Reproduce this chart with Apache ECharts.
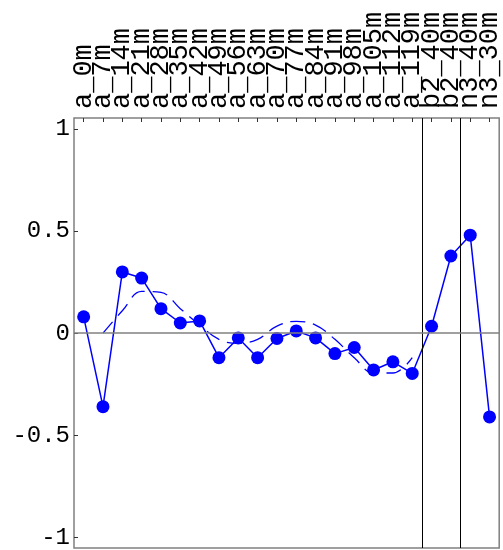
<!DOCTYPE html>
<html>
<head>
<meta charset="utf-8">
<script src="https://cdn.jsdelivr.net/npm/echarts@6/dist/echarts.min.js"></script>
<style>
html,body{margin:0;padding:0;background:#fff;}
#chart{width:503px;height:550px;}
</style>
</head>
<body>
<div id="chart"></div>
<script>
var categories = ["a_0m","a_7m","a_14m","a_21m","a_28m","a_35m","a_42m","a_49m","a_56m","a_63m","a_70m","a_77m","a_84m","a_91m","a_98m","a_105m","a_112m","a_119m","b2_40m","b2_40m","n3_40m","n3_30m"];
var values = [0.08,-0.36,0.30,0.27,0.12,0.05,0.06,-0.12,-0.023,-0.12,-0.026,0.011,-0.023,-0.10,-0.07,-0.18,-0.14,-0.197,0.034,0.378,0.48,-0.41];
var trend = [null,0.0,0.11,0.205,0.20,0.12,0.04,-0.03,-0.05,-0.03,0.035,0.058,0.04,-0.03,-0.12,-0.195,-0.195,-0.12,null,null,null,null];
var dividers = [17.5, 19.5];
var yTicks = [-1, -0.5, 0, 0.5, 1];

var FONT = '"Liberation Mono", "DejaVu Sans Mono", monospace';
var chart = echarts.init(document.getElementById('chart'), null, {renderer:'canvas'});
chart.setOption({
  animation: false,
  backgroundColor: '#ffffff',
  grid: {left: 74, right: 2, top: 118, bottom: 2, show: true, borderColor: '#808080', borderWidth: 1.5, backgroundColor: 'transparent'},
  xAxis: [{
    type: 'category', position: 'top', data: categories, boundaryGap: true,
    axisLine: {show: false, onZero: false},
    axisTick: {show: true, inside: true, length: 4, alignWithLabel: true, lineStyle: {color: '#333', width: 1}},
    axisLabel: {rotate: -90, margin: 9, interval: 0, fontFamily: FONT, fontSize: 27, color: '#000'},
    splitLine: {show: false}
  }, {
    type: 'value', position: 'bottom', min: -0.5, max: categories.length - 0.5, show: false,
    axisLine: {onZero: false}
  }],
  yAxis: {
    type: 'value', min: -1.052, max: 1.054,
    axisLine: {show: false, onZero: false},
    axisTick: {show: true, inside: true, length: 4, lineStyle: {color: '#333', width: 1}},
    axisLabel: {show: true, margin: 4, fontFamily: FONT, fontSize: 24, color: '#000', showMinLabel: false, showMaxLabel: false,
      formatter: function(v){ return yTicks.indexOf(Math.round(v*1000)/1000) >= 0 ? String(Math.round(v*10)/10) : ''; }},
    splitLine: {show: false}
  },
  series: [{
    type: 'line', xAxisIndex: 1, data: [], silent: true,
    markLine: {silent: true, symbol: 'none', label: {show: false},
      lineStyle: {color: '#000', width: 1, type: 'solid'},
      data: dividers.map(function(d){ return {xAxis: d}; })}
  }, {
    type: 'line', xAxisIndex: 0, data: values.map(function(){return null;}), silent: true,
    markLine: {silent: true, symbol: 'none', label: {show: false},
      lineStyle: {color: '#808080', width: 1.5, type: 'solid'},
      data: [{yAxis: 0}]}
  }, {
    type: 'line', xAxisIndex: 0, data: trend, smooth: 0.4, showSymbol: false, connectNulls: false,
    lineStyle: {color: '#0000ff', width: 1.3, type: [15, 8]}, z: 3
  }, {
    type: 'line', xAxisIndex: 0, data: values, symbol: 'circle', symbolSize: 13,
    itemStyle: {color: '#0000ff'}, lineStyle: {color: '#0000ff', width: 1.5}, z: 4
  }]
});
</script>
</body>
</html>
